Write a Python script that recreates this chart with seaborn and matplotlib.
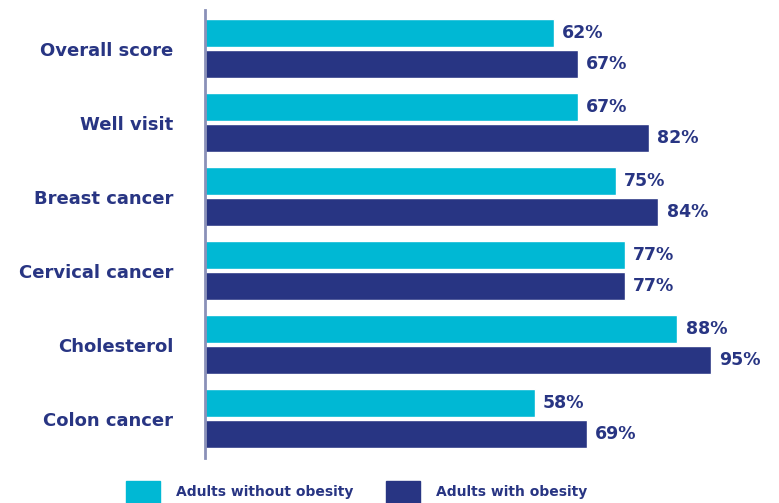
import pandas as pd
import matplotlib
matplotlib.use("Agg")
import matplotlib.pyplot as plt
import matplotlib.patches as mpatches
import seaborn as sns

categories = ["Overall score", "Well visit", "Breast cancer",
              "Cervical cancer", "Cholesterol", "Colon cancer"]
without_obesity = [62, 67, 75, 77, 88, 58]
with_obesity = [67, 82, 84, 77, 95, 69]
groups = ["Adults without obesity", "Adults with obesity"]

CYAN = "#00B8D4"
NAVY = "#283583"
AXIS = "#8A90B8"

df = pd.DataFrame({
    "category": categories * 2,
    "value": without_obesity + with_obesity,
    "group": [groups[0]] * len(categories) + [groups[1]] * len(categories),
})

sns.set_style("white")
plt.rcParams["font.family"] = ["DejaVu Sans"]

fig = plt.figure(figsize=(7.79, 5.03), dpi=100)
ax = fig.add_axes([205 / 779, 45 / 503, 535 / 779, 448 / 503])

sns.barplot(data=df, y="category", x="value", hue="group", orient="h",
            palette=[CYAN, NAVY], saturation=1, width=0.84, gap=0.1,
            legend=False, ax=ax)

# the original bars start at the axis line, a bit left of zero
base = -11.4
for p in ax.patches:
    p.set_width(p.get_width() - base)
    p.set_x(base)

for cont, vals in zip(ax.containers, [without_obesity, with_obesity]):
    ax.bar_label(cont, labels=[f"{v}%" for v in vals], padding=6,
                 fontsize=12.5, fontweight="bold", color=NAVY)

ax.set_xlim(base, 101.2)
ax.set_ylim(5.53, -0.52)
ax.set_xlabel("")
ax.set_ylabel("")
ax.set_xticks([])
for s in ["top", "right", "bottom"]:
    ax.spines[s].set_visible(False)
ax.spines["left"].set_color(AXIS)
ax.spines["left"].set_linewidth(2)
ax.tick_params(axis="y", length=0, pad=23)
for lab in ax.get_yticklabels():
    lab.set_fontsize(13)
    lab.set_fontweight("bold")
    lab.set_color(NAVY)

handles = [mpatches.Patch(color=CYAN, label=groups[0]),
           mpatches.Patch(color=NAVY, label=groups[1])]
leg = fig.legend(handles=handles, loc="center", ncol=2,
                 bbox_to_anchor=(0.4577, 0.022), frameon=False,
                 prop={"weight": "bold", "size": 10},
                 handlelength=2.45, handleheight=2.0,
                 handletextpad=1.15, columnspacing=2.3)
for t in leg.get_texts():
    t.set_color(NAVY)

fig.savefig("out.png", dpi=100)
